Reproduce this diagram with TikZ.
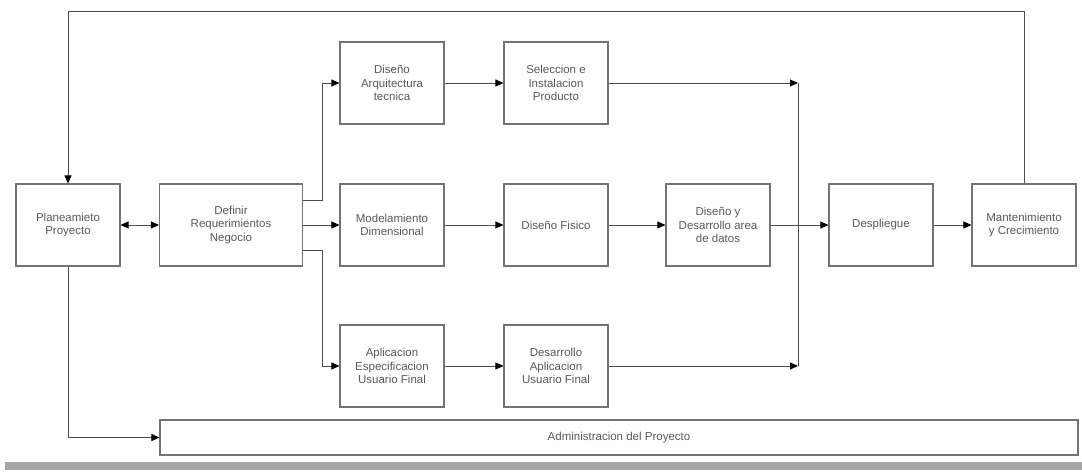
\documentclass[tikz,border=0pt]{standalone}
\usepackage{fontspec}
\setmainfont{Liberation Sans}
\usetikzlibrary{arrows.meta}
\begin{document}
\begin{tikzpicture}[x=1pt,y=-1pt,
  >={Triangle[length=8pt,width=7pt,color=black]},
  box/.style={draw=black!55, line width=1.1pt, fill=white, align=center,
    text=black!65, font=\fontsize{11.5}{13.5}\selectfont,
    minimum width=104pt, minimum height=82pt, inner sep=2pt},
  link/.style={draw=black!70, line width=0.9pt},
  arr/.style={link, ->},
  dbl/.style={link, <->}]
  \useasboundingbox (0,0) rectangle (1082,473);
  \fill[white] (0,0) rectangle (1082,473);
  % bottom rule
  \fill[black!35] (5,462) rectangle (1082,470);

  % process boxes
  \node[box] (plan) at (68,225) {Planeamieto\\Proyecto};
  \node[box, minimum width=143pt] (def) at (231,225) {Definir\\Requerimientos\\Negocio};
  \node[box] (arq) at (392,83) {Diseño\\Arquitectura\\tecnica};
  \node[box] (sel) at (556,83) {Seleccion e\\Instalacion\\Producto};
  \node[box] (mod) at (392,225) {Modelamiento\\Dimensional};
  \node[box] (fis) at (556,225) {Diseño Fisico};
  \node[box] (dat) at (718,225) {Diseño y\\Desarrollo area\\de datos};
  \node[box] (des) at (881,225) {Despliegue};
  \node[box] (man) at (1024,225) {Mantenimiento\\y Crecimiento};
  \node[box] (esp) at (392,366) {Aplicacion\\Especificacion\\Usuario Final};
  \node[box] (apl) at (556,366) {Desarrollo\\Aplicacion\\Usuario Final};
  \node[box, minimum width=918pt, minimum height=35pt] (adm) at (619,437.5) {Administracion del Proyecto};

  % junction points
  \coordinate (jt) at (798,83);
  \coordinate (jb) at (798,366);
  \coordinate (loop) at (68,11);

  % connectors
  \draw[dbl] (plan.east) -- (def.west);
  \draw[arr] ([yshift=25pt]def.east) -- ++(19,0) |- (arq.west);
  \draw[arr] (def.east) -- (mod.west);
  \draw[arr] ([yshift=-25pt]def.east) -- ++(19,0) |- (esp.west);
  \draw[arr] (arq.east) -- (sel.west);
  \draw[arr] (mod.east) -- (fis.west);
  \draw[arr] (esp.east) -- (apl.west);
  \draw[arr] (fis.east) -- (dat.west);
  \draw[arr] (sel.east) -- (jt);
  \draw[arr] (apl.east) -- (jb);
  \draw[link] (jt) -- (jb);
  \draw[arr] (dat.east) -- (des.west);
  \draw[arr] (des.east) -- (man.west);
  \draw[arr] (man.north) |- (loop) -- (plan.north);
  \draw[arr] (plan.south) |- (adm.west);
\end{tikzpicture}
\end{document}
